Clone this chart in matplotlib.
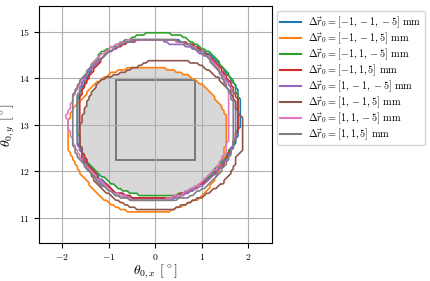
import numpy as np
import matplotlib
matplotlib.use("Agg")
import matplotlib.pyplot as plt
from matplotlib.path import Path
from matplotlib.lines import Line2D
from matplotlib.patches import Rectangle

plt.rcParams['font.family'] = 'serif'
plt.rcParams['font.serif'] = ['cmr10']
plt.rcParams['mathtext.fontset'] = 'cm'
plt.rcParams['axes.formatter.use_mathtext'] = True
plt.rcParams['axes.unicode_minus'] = True

# acceptance boundaries (theta_x, theta_y in deg)
labels = [r'$\Delta\vec{r}_0 = [-1, -1, -5]$ mm',
          r'$\Delta\vec{r}_0 = [-1, -1, 5]$ mm',
          r'$\Delta\vec{r}_0 = [-1, 1, -5]$ mm',
          r'$\Delta\vec{r}_0 = [-1, 1, 5]$ mm',
          r'$\Delta\vec{r}_0 = [1, -1, -5]$ mm',
          r'$\Delta\vec{r}_0 = [1, -1, 5]$ mm',
          r'$\Delta\vec{r}_0 = [1, 1, -5]$ mm',
          r'$\Delta\vec{r}_0 = [1, 1, 5]$ mm']

blue = [(-1.66, 12.6), (-1.66, 13.55), (-1.55, 13.85), (-1.4, 14.15), (-1.1, 14.5), (-0.7, 14.75),
        (-0.35, 14.84), (0.4, 14.84), (0.8, 14.72), (1.2, 14.48), (1.5, 14.15), (1.72, 13.85),
        (1.81, 13.55), (1.81, 12.95), (1.72, 12.6), (1.5, 12.25), (1.2, 11.9), (0.8, 11.6),
        (0.35, 11.42), (-0.4, 11.42), (-0.85, 11.55), (-1.2, 11.85), (-1.45, 12.2)]
orange = [(-1.89, 12.85), (-1.86, 13.11), (-1.75, 13.39), (-1.5, 13.64), (-1.32, 13.86), (-0.96, 14.11),
          (-0.61, 14.21), (-0.4, 14.25), (0.05, 14.25), (0.32, 14.18), (0.68, 14.07), (0.96, 13.89),
          (1.25, 13.61), (1.43, 13.39), (1.52, 13.18), (1.52, 12.61), (1.46, 12.32), (1.32, 11.89),
          (1.18, 11.68), (0.89, 11.39), (0.46, 11.21), (0.32, 11.14), (-0.57, 11.14), (-0.82, 11.21),
          (-1.11, 11.39), (-1.39, 11.68), (-1.61, 11.96), (-1.75, 12.25), (-1.86, 12.46)]
green = [(-1.66, 12.9), (-1.66, 13.55), (-1.61, 13.82), (-1.5, 14.03), (-1.39, 14.25), (-1.18, 14.54),
         (-0.89, 14.68), (-0.68, 14.79), (-0.46, 14.89), (-0.18, 14.96), (0.25, 14.96), (0.61, 14.89),
         (0.89, 14.71), (1.18, 14.54), (1.32, 14.39), (1.61, 14.03), (1.73, 13.8), (1.77, 13.5),
         (1.77, 12.95), (1.7, 12.61), (1.5, 12.3), (1.04, 11.75), (0.68, 11.57), (0.32, 11.46),
         (-0.25, 11.46), (-0.75, 11.61), (-1.25, 11.96), (-1.54, 12.25), (-1.63, 12.54)]
red = [(-1.64, 12.6), (-1.64, 13.5), (-1.55, 13.8), (-1.35, 14.15), (-1.04, 14.54), (-0.61, 14.75),
       (-0.3, 14.84), (0.35, 14.84), (0.8, 14.72), (1.18, 14.46), (1.45, 14.15), (1.65, 13.85),
       (1.75, 13.55), (1.75, 12.85), (1.65, 12.5), (1.45, 12.15), (1.1, 11.8), (0.7, 11.55),
       (0.3, 11.42), (-0.4, 11.42), (-0.85, 11.55), (-1.2, 11.82), (-1.45, 12.15)]
purple = [(-1.68, 12.6), (-1.7, 13.5), (-1.6, 13.85), (-1.4, 14.2), (-1.1, 14.5), (-0.7, 14.74),
          (-0.3, 14.84), (0.1, 14.84), (0.3, 14.75), (0.75, 14.68), (1.15, 14.42), (1.45, 14.08),
          (1.65, 13.75), (1.72, 13.45), (1.72, 12.75), (1.62, 12.4), (1.32, 11.96), (1.0, 11.7),
          (0.6, 11.48), (0.3, 11.38), (-0.45, 11.38), (-0.85, 11.5), (-1.2, 11.78), (-1.48, 12.12)]
brown = [(-1.63, 12.9), (-1.57, 13.18), (-1.5, 13.39), (-1.43, 13.61), (-1.32, 13.75), (-1.18, 13.96),
         (-0.75, 14.11), (-0.39, 14.25), (-0.14, 14.37), (0.61, 14.37), (0.89, 14.32), (1.18, 14.14),
         (1.36, 14.0), (1.5, 13.82), (1.68, 13.61), (1.75, 13.32), (1.86, 13.14), (1.86, 12.44),
         (1.75, 12.32), (1.68, 12.04), (1.46, 11.75), (1.04, 11.46), (0.54, 11.25), (0.39, 11.18),
         (-0.39, 11.18), (-0.75, 11.32), (-1.04, 11.54), (-1.32, 11.82), (-1.54, 12.18), (-1.61, 12.61)]
pink = [(-1.86, 12.9), (-1.91, 13.2), (-1.86, 13.32), (-1.72, 13.7), (-1.5, 14.1), (-1.3, 14.4),
        (-0.9, 14.7), (-0.5, 14.84), (0.3, 14.84), (0.75, 14.72), (1.15, 14.46), (1.4, 14.14),
        (1.57, 13.75), (1.57, 12.7), (1.5, 12.4), (1.3, 12.05), (0.95, 11.72), (0.55, 11.5),
        (0.2, 11.4), (-0.5, 11.4), (-0.9, 11.55), (-1.25, 11.85), (-1.55, 12.2), (-1.75, 12.6)]
gray = [(-1.79, 12.68), (-1.79, 13.61), (-1.61, 13.96), (-1.32, 14.32), (-0.89, 14.64), (-0.46, 14.84),
        (0.36, 14.84), (0.75, 14.71), (1.11, 14.46), (1.39, 14.11), (1.61, 13.68), (1.68, 13.39),
        (1.68, 12.55), (1.61, 12.32), (1.39, 11.96), (1.11, 11.68), (0.75, 11.46), (0.36, 11.38),
        (-0.46, 11.38), (-0.82, 11.46), (-1.18, 11.71), (-1.46, 12.04), (-1.68, 12.32)]

boundaries = [blue, orange, green, red, purple, brown, pink, gray]
colors = ['tab:blue', 'tab:orange', 'tab:green', 'tab:red',
          'tab:purple', 'tab:brown', 'tab:pink', 'tab:gray']

# nominal field of view box
box_x = [-0.85, 0.85]
box_y = [12.25, 13.95]

# scan grid
tx = np.arange(-2.5, 2.5, 0.05)
ty = np.arange(10.4, 15.6, 0.05)
TX, TY = np.meshgrid(tx, ty)
pts = np.column_stack([TX.ravel(), TY.ravel()])

fig = plt.figure(figsize=(4.3, 2.81), dpi=100)
ax = fig.add_axes([39 / 430, 37.7 / 281, 232.7 / 430, 237.3 / 281])

masks = []
for b in boundaries:
    m = Path(b + [b[0]]).contains_points(pts).reshape(TX.shape).astype(float)
    masks.append(m)

common = np.prod(masks, axis=0)
ax.contourf(TX, TY, common, levels=[0.5, 1.5], colors=['gray'], alpha=0.3)

for m, c in zip(masks, colors):
    ax.contour(TX, TY, m, levels=[0.5], colors=[c], linewidths=1.2)

ax.add_patch(Rectangle((box_x[0], box_y[0]), box_x[1] - box_x[0], box_y[1] - box_y[0],
                       fill=False, edgecolor='dimgray', linewidth=1.2))

ax.set_xlim(-2.5, 2.5)
ax.set_ylim(10.45, 15.55)
ax.set_aspect('equal')
ax.set_xticks([-2, -1, 0, 1, 2])
ax.set_yticks([11, 12, 13, 14, 15])
ax.tick_params(labelsize=7, pad=3)
ax.grid(True)
ax.set_xlabel(r'$\theta_{0,x}$ [$^\circ$]', fontsize=10, labelpad=0)
ax.set_ylabel(r'$\theta_{0,y}$ [$^\circ$]', fontsize=10, labelpad=1)

handles = [Line2D([], [], color=c, lw=1.5) for c in colors]
ax.legend(handles, labels, loc='upper left', bbox_to_anchor=(1.0, 1.0), fontsize=7.4,
          handlelength=2.0, handletextpad=0.7, labelspacing=0.05, borderpad=0.35)

fig.savefig('out.png', dpi=100)
